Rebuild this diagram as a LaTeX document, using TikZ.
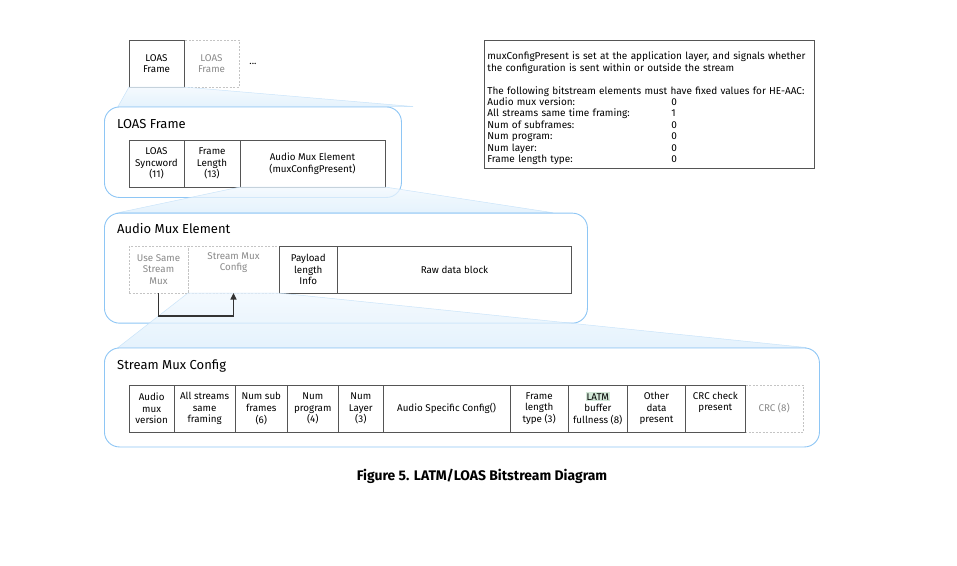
\documentclass[tikz,border=0pt]{standalone}
\usepackage{fontspec}
\setmainfont{Fira Sans}
\usetikzlibrary{positioning,arrows.meta}
\definecolor{panelblue}{HTML}{8EC6F5}
\definecolor{funneltop}{HTML}{F1F8FE}
\definecolor{funnelbot}{HTML}{DCEEFC}
\definecolor{funnelline}{HTML}{BCDDF8}
\definecolor{cellline}{HTML}{555555}
\definecolor{ghostline}{HTML}{C4C4C4}
\definecolor{ghosttext}{HTML}{8A8A8A}
\definecolor{latmgreen}{HTML}{D3E8D8}

\begin{document}
\begin{tikzpicture}[x=1pt,y=-1pt,node distance=0pt,
    cell/.style={draw=cellline, line width=0.8pt, minimum height=47pt, inner sep=0pt, outer sep=0pt,
      align=center, font=\fontsize{9.8}{11.6}\selectfont, anchor=north west},
    ghost/.style={cell, draw=ghostline, dash pattern=on 2pt off 1.5pt, text=ghosttext},
    panel/.style={draw=panelblue, line width=0.9pt, fill=white, rounded corners=15pt, inner sep=0pt, anchor=north west},
    paneltitle/.style={anchor=west, inner sep=0pt, font=\fontsize{13}{14}\selectfont},
    funnel/.style={draw=funnelline, line width=0.5pt, top color=funneltop, bottom color=funnelbot, opacity=0.75}]
  \useasboundingbox (0,0) rectangle (957,565);

  % top row of frames
  \node[ghost, minimum width=55pt] (loasnext) at (184,40) {LOAS\\Frame};
  \node[cell, minimum width=55pt, left=of loasnext] (loasframe) {LOAS\\Frame};
  \node[inner sep=0pt, font=\fontsize{9.8}{10}\selectfont] (dots) at (253,64) {...};

  % LOAS frame
  \coordinate (f1l) at (118,106.5);
  \coordinate (f1r) at (413,106.5);
  \path[funnel] (loasframe.south west) -- (loasframe.south east) -- (f1r) -- (f1l) -- cycle;
  \node[panel, minimum width=297pt, minimum height=90.5pt] (loaspanel) at (104,106.5) {};
  \node[paneltitle] (loastitle) at (117,124) {LOAS Frame};
  \node[cell, minimum width=55pt] (syncword) at (129,140) {LOAS\\Syncword\\(11)};
  \node[cell, minimum width=56pt, right=of syncword] (framelength) {Frame\\Length\\(13)};
  \node[cell, minimum width=145pt, right=of framelength] (audiomux) {Audio Mux Element\\(muxConfigPresent)};

  % audio mux element
  \coordinate (f2l) at (118,212.7);
  \coordinate (f2r) at (553,212.7);
  \path[funnel] (audiomux.south west) -- (audiomux.south east) -- (f2r) -- (f2l) -- cycle;
  \node[panel, minimum width=483pt, minimum height=110pt] (amepanel) at (104,212.7) {};
  \node[paneltitle] (ametitle) at (117,229) {Audio Mux Element};
  \node[ghost, minimum width=59pt] (usesame) at (129,246) {Use Same\\Stream\\Mux};
  \node[ghost, minimum width=91pt, right=of usesame] (smconfig) {Stream Mux\\Config\\[4pt]};
  \node[cell, minimum width=58.5pt, right=of smconfig] (payload) {Payload\\length\\Info};
  \node[cell, minimum width=234pt, right=of payload] (rawdata) {Raw data block};

  % stream mux config
  \coordinate (f3l) at (118,347.5);
  \coordinate (f3r) at (806,347.5);
  \path[funnel] (smconfig.south west) -- (smconfig.south east) -- (f3r) -- (f3l) -- cycle;
  \node[panel, minimum width=715pt, minimum height=99pt] (smcpanel) at (104,347.5) {};
  \node[paneltitle] (smctitle) at (117,366) {Stream Mux Config};
  \node[ghost, minimum width=58.3pt] (crc) at (745,385) {CRC (8)};
  \node[cell, minimum width=44.7pt] (muxversion) at (129.3,385) {Audio\\mux\\version};
  \node[cell, minimum width=61.3pt, right=of muxversion] (sameframing) {All streams\\same\\framing};
  \node[cell, minimum width=52pt, right=of sameframing] (numsub) {Num sub\\frames\\(6)};
  \node[cell, minimum width=51pt, right=of numsub] (numprog) {Num\\program\\(4)};
  \node[cell, minimum width=45pt, right=of numprog] (numlayer) {Num\\Layer\\(3)};
  \node[cell, minimum width=126.7pt, right=of numlayer] (asc) {Audio Specific Config()};
  \node[cell, minimum width=58.3pt, right=of asc] (lentype) {Frame\\length\\type (3)};
  \node[cell, minimum width=59pt, right=of lentype] (latmbuf) {\setlength{\fboxsep}{1pt}\colorbox{latmgreen}{LATM}\\buffer\\fullness (8)};
  \node[cell, minimum width=58.4pt, right=of latmbuf] (otherdata) {Other\\data\\present};
  \node[cell, minimum width=59.3pt, right=of otherdata] (crcpresent) {CRC check\\present\\[3pt]};

  % use same stream mux
  \draw[draw=black!80, line width=1.2pt, -{Triangle[length=6.5pt,width=6pt]}] (usesame.south) -- ++(0,23) -| (smconfig.south);

  % note
  \node[draw=cellline, line width=0.8pt, anchor=north west, minimum width=330pt, minimum height=128pt,
    text width=324pt, inner sep=3pt, align=left, font=\fontsize{10}{11.4}\selectfont] (note) at (484,40)
    {\mbox{}\\[4.5pt]
     muxConfigPresent is set at the application layer, and signals whether\\
     the configuration is sent within or outside the stream\\
     ~\\
     The following bitstream elements must have fixed values for HE-AAC:\\
     \makebox[184pt][l]{Audio mux version:}0\\
     \makebox[184pt][l]{All streams same time framing:}1\\
     \makebox[184pt][l]{Num of subframes:}0\\
     \makebox[184pt][l]{Num program:}0\\
     \makebox[184pt][l]{Num layer:}0\\
     \makebox[184pt][l]{Frame length type:}0};

  \node[font=\bfseries\fontsize{13.9}{15}\selectfont] (caption) at (482,476) {Figure 5. LATM/LOAS Bitstream Diagram};
\end{tikzpicture}
\end{document}
